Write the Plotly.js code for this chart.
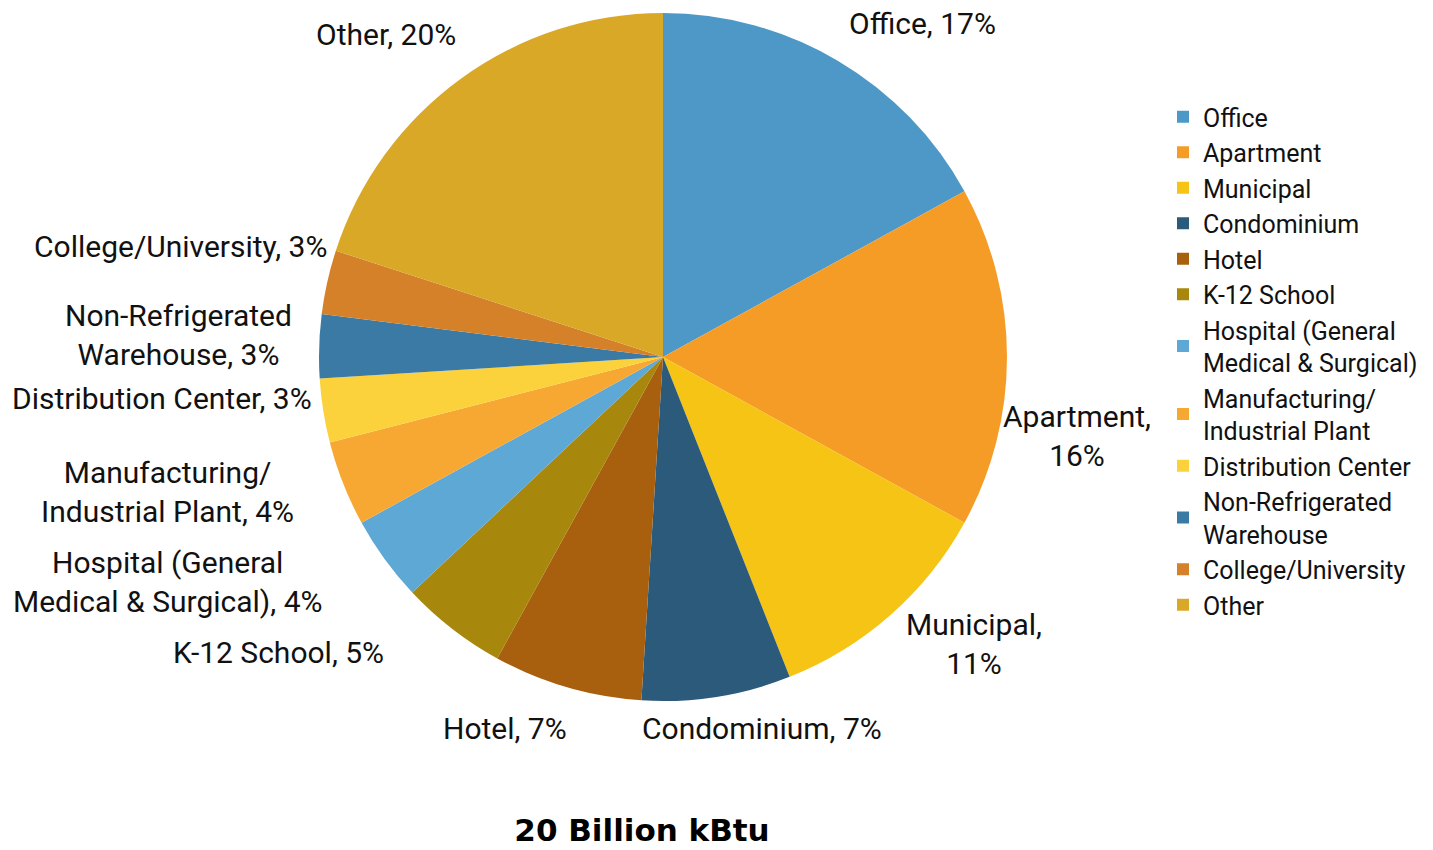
<!DOCTYPE html>
<html>
<head>
<meta charset="utf-8">
<script src="https://cdn.plot.ly/plotly-3.0.1.min.js"></script>
<style>
  html, body { margin: 0; padding: 0; background: #ffffff; }
  #chart { width: 1433px; height: 850px; }
</style>
</head>
<body>
<div id="chart"></div>
<script>
// Building floor-area energy use by property type, share of 20 billion kBtu
const categories = [
  "Office", "Apartment", "Municipal", "Condominium", "Hotel", "K-12 School",
  "Hospital (General<br>Medical & Surgical)", "Manufacturing/<br>Industrial Plant",
  "Distribution Center", "Non-Refrigerated<br>Warehouse", "College/University", "Other"
];
const shares = [17, 16, 11, 7, 7, 5, 4, 4, 3, 3, 3, 20];
const colors = [
  "#4d98c7", "#f59c26", "#f6c415", "#2c5a7b", "#a8600f", "#a8870d",
  "#5ea8d6", "#f7a832", "#fbd23c", "#3b7aa5", "#d4812a", "#d9a826"
];
// separator between name and value in the slice labels
const labelSep = [", ", ",<br>", ",<br>", ", ", ", ", ", ", ", ", ", ", ", ", ", ", ", ", ", "];
// label centres in page pixels
const labelPos = [
  [923, 23], [1077, 436], [974, 644], [762, 728], [505, 728], [278, 652],
  [168, 582], [167, 492], [162, 398], [178, 335], [180, 247], [386, 35]
];

const W = 1433, H = 850;
const FONT = "Roboto, 'Open Sans', sans-serif";

const pie = {
  type: "pie",
  labels: categories,
  values: shares,
  sort: false,
  direction: "clockwise",
  rotation: 0,
  textinfo: "none",
  hoverinfo: "label+percent",
  marker: { colors: colors, line: { width: 0 } },
  domain: { x: [319 / W, 1007 / W], y: [1 - 701 / H, 1 - 13 / H] }
};

const annotations = categories.map((c, i) => ({
  xref: "paper", yref: "paper",
  x: labelPos[i][0] / W, y: 1 - labelPos[i][1] / H,
  xanchor: "center", yanchor: "middle",
  text: c + labelSep[i] + shares[i] + "%",
  showarrow: false,
  align: "center",
  font: { family: FONT, size: 30, color: "#111111" }
}));

const layout = {
  width: W, height: H,
  margin: { l: 0, r: 0, t: 0, b: 0 },
  paper_bgcolor: "#ffffff",
  showlegend: true,
  legend: {
    x: 1163 / W, y: 1 - 94 / H, xanchor: "left", yanchor: "top",
    font: { family: FONT, size: 25, color: "#111111" },
    bgcolor: "rgba(0,0,0,0)"
  },
  title: {
    text: "<b>20 Billion kBtu</b>",
    x: 642 / W, xanchor: "center",
    y: 1 - 830 / H, yanchor: "middle",
    font: { family: "'DejaVu Sans', sans-serif", size: 31, color: "#000000" }
  },
  annotations: annotations
};

Plotly.newPlot("chart", [pie], layout, { displayModeBar: false, staticPlot: true });
</script>
</body>
</html>
